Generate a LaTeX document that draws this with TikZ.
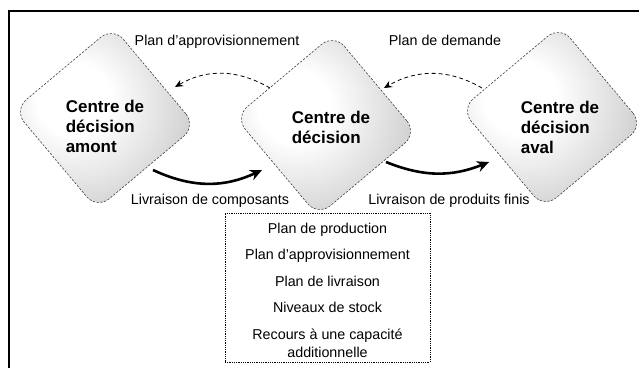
\documentclass[tikz,border=0pt]{standalone}
\usepackage{fontspec}
\setmainfont{Liberation Sans}
\usetikzlibrary{shapes.geometric,arrows.meta,calc}
\pgfdeclareradialshading{diashade}{\pgfpoint{-10bp}{6bp}}{%
  color(0bp)=(white); color(10bp)=(white); color(30bp)=(black!18);
  color(45bp)=(black!32); color(58bp)=(black!42); color(75bp)=(black!46)}
\tikzset{
  dia/.style={shape=diamond, aspect=1, minimum width=183pt, minimum height=183pt,
    inner sep=0pt, rounded corners=16pt, shading=diashade, rotate=-5,
    draw=black!75, dashed, dash pattern=on 2.2pt off 1.6pt, line width=0.6pt},
  diatext/.style={font=\bfseries\fontsize{17}{20}\selectfont, align=left, inner sep=0pt},
  lbl/.style={font=\fontsize{14.3}{17}\selectfont, inner sep=0pt},
  infobox/.style={draw=black, dash pattern=on 0.9pt off 0.9pt, line width=0.9pt, minimum width=205pt,
    minimum height=149pt, inner sep=0pt},
  boxtext/.style={font=\fontsize{14.3}{18}\selectfont, align=center, inner sep=0pt},
  feedback/.style={draw=black, line width=0.8pt, dash pattern=on 4pt off 3pt,
    -{Stealth[length=8pt,width=7pt]}},
  flow/.style={draw=black, line width=2.6pt, -{Stealth[length=12pt,width=11pt]}}
}
\begin{document}
\begin{tikzpicture}[x=1pt,y=1pt]
\useasboundingbox (0,0) rectangle (639,367);
\fill[white] (0,0) rectangle (639,367);
% frame
\draw[line width=2pt] (9,-2) -- (9,356) -- (641,356);
% decision centres
\node[dia] (L) at (105,249) {};
\node[dia] (M) at (326,242) {};
\node[dia] (R) at (552,250) {};
\node[diatext] (Lt) at (105,241) {Centre de\\décision\\amont};
\node[diatext] (Mt) at (331,240) {Centre de\\décision};
\node[diatext] (Rt) at (560,240) {Centre de\\décision\\aval};
% labels
\node[lbl] (l1) at (217,325) {Plan d’approvisionnement};
\node[lbl] (l2) at (445,327) {Plan de demande};
\node[lbl] (l3) at (210,166) {Livraison de composants};
\node[lbl] (l4) at (449,166) {Livraison de produits finis};
% info box
\node[infobox] (box) at (327.5,79.5) {};
\node[boxtext] (bt) at (327.5,77) {Plan de production\\[8.5pt]Plan d’approvisionnement\\[8.5pt]Plan de livraison\\[8.5pt]Niveaux de stock\\[8.5pt]Recours à une capacité\\additionnelle};
% connectors
\draw[feedback] ($(M)+(-56,37)$) to[out=150,in=30] ($(L)+(70,31)$);
\draw[feedback] ($(R)+(-70,29)$) to[out=150,in=30] ($(M)+(58,37)$);
\draw[flow] ($(L)+(48,-52)$) to[out=-25,in=205] ($(M)+(-64,-45)$);
\draw[flow] ($(M)+(60,-37)$) to[out=-22,in=202] ($(R)+(-63,-45)$);
\end{tikzpicture}
\end{document}
